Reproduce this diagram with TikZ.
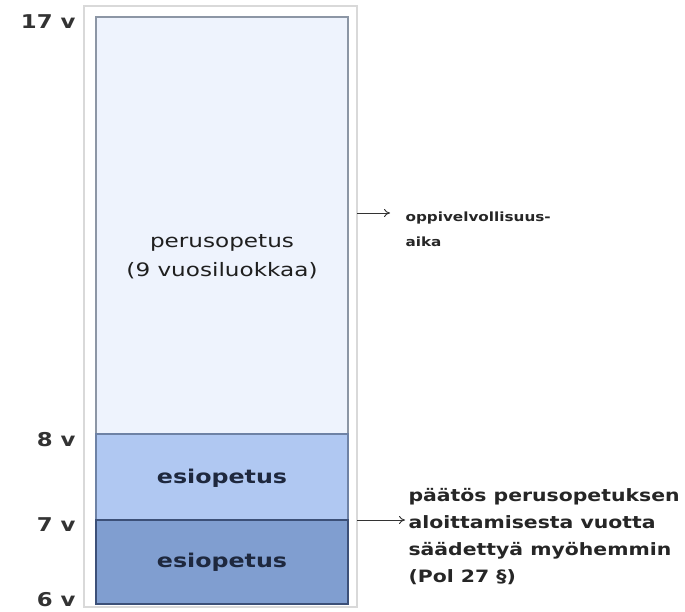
\documentclass[tikz,border=0pt]{standalone}
\usepackage{fontspec}
\setmainfont{DejaVu Sans}
\newfontfamily\widefont[FakeStretch=1.2]{DejaVu Sans}
\newfontfamily\widerfont[FakeStretch=1.25]{DejaVu Sans}
\usetikzlibrary{arrows.meta}
\definecolor{esicol}{RGB}{30,40,62}
\definecolor{topfill}{RGB}{238,243,253}
\definecolor{midfill}{RGB}{176,200,242}
\definecolor{botfill}{RGB}{128,158,208}
\begin{document}
\begin{tikzpicture}[x=1pt,y=-1pt,
  agelbl/.style={anchor=east, font=\widefont\bfseries\fontsize{19}{22}\selectfont, text=black!80},
  boxtxt/.style={font=\widerfont\fontsize{18.5}{29}\selectfont, text=black!88, align=center},
  esitxt/.style={font=\widerfont\bfseries\fontsize{19}{22}\selectfont, text=esicol},
  note/.style={anchor=west, font=\widefont\bfseries\fontsize{17}{27}\selectfont, align=left, text=black!85},
  notesm/.style={anchor=west, font=\widefont\bfseries\fontsize{12.7}{25}\selectfont, align=left, text=black!85},
  arr/.style={-{To[length=6pt,width=8pt]}, line width=0.9pt, black!80}]
\useasboundingbox (0,0) rectangle (685,612);
\fill[white] (0,0) rectangle (685,612);
% outer frame
\draw[black!15, line width=1.5pt] (84,6) rectangle (357,607);
% segments
\filldraw[fill=topfill, draw={rgb,255:red,140;green,150;blue,165}, line width=1.2pt] (96,17) rectangle (348,434);
\filldraw[fill=midfill, draw={rgb,255:red,110;green,130;blue,165}, line width=1.2pt] (96,434) rectangle (348,520);
\filldraw[fill=botfill, draw={rgb,255:red,60;green,80;blue,120}, line width=1.2pt] (96,520) rectangle (348,604);
\coordinate (r1) at (357,213);
\coordinate (r2) at (357,520);
% labels
\node[agelbl] (a17) at (79,22) {17 v};
\node[agelbl] (a8) at (79,440) {8 v};
\node[agelbl] (a7) at (79,525) {7 v};
\node[agelbl] (a6) at (79,600) {6 v};
\node[boxtxt] (perus) at (222,257) {perusopetus\\(9 vuosiluokkaa)};
\node[esitxt] (esi1) at (222,478) {esiopetus};
\node[esitxt] (esi2) at (222,562) {esiopetus};
\node[notesm] (oppi) at (402,229) {oppivelvollisuus-\\aika};
\node[note] (paat) at (405,537) {päätös perusopetuksen\\aloittamisesta vuotta\\säädettyä myöhemmin\\(Pol 27 §)};
\draw[arr] (r1) -- (390,213);
\draw[arr] (r2) -- (paat.west |- r2);
\end{tikzpicture}
\end{document}
